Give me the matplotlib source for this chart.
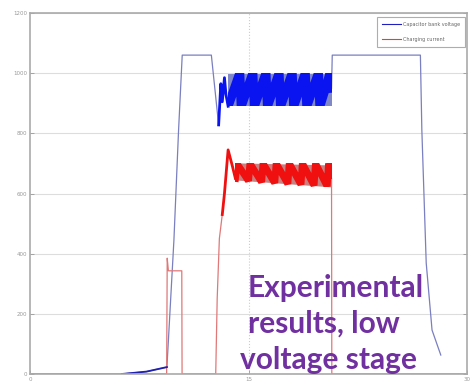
import matplotlib
matplotlib.use("Agg")
import matplotlib.pyplot as plt
from matplotlib.patches import Rectangle

# ---- data ----
# Capacitor bank voltage: thin outline parts
volt_t = [0, 6.3, 8.0, 9.4, 9.88, 10.2, 10.45, 12.45, 12.95, 13.1, 13.2, 13.35, 13.45, 13.6]
volt_v = [0, 0, 8, 23, 445, 811, 1060, 1060, 828, 965, 905, 985, 930, 890]
volt_t2 = [20.7, 20.75, 26.8, 26.9, 27.2, 27.6, 28.2]
volt_v2 = [950, 1060, 1060, 811, 369, 146, 63]
# sawtooth in the dense band (voltage)
band_v_t = [13.6, 14.4, 14.5, 15.3, 15.4, 16.2, 16.3, 17.1, 17.2, 18.0, 18.1, 18.9, 19.0,
            19.8, 19.9, 20.6, 20.7]
band_v_v = [890, 1000, 890, 1000, 890, 1000, 890, 1000, 890, 1000, 890, 1000, 890,
            1000, 890, 1000, 950]
band_v_lo = [890, 890]
band_v_hi = [1000, 1000]
band_v_span = [13.6, 20.7]

# Charging current
curr_t = [0, 9.38, 9.42, 9.5, 10.42, 10.44, 12.75, 12.85, 13.0, 13.2, 13.35, 13.6, 13.9, 14.1]
curr_v = [0, 0, 385, 343, 343, 0, 0, 250, 450, 530, 600, 745, 690, 650]
curr_t2 = [20.7, 20.72, 30]
curr_v2 = [650, 0, 0]
band_c_t = [14.1, 14.2, 15.0, 15.1, 15.9, 16.0, 16.8, 16.9, 17.7, 17.8, 18.6, 18.7, 19.5,
            19.6, 20.4, 20.5, 20.7]
band_c_v = [650, 700, 642, 700, 638, 700, 635, 700, 632, 700, 630, 700, 627, 700, 624, 700, 660]
band_c_lo = [645, 622]
band_c_hi = [702, 695]
band_c_span = [14.1, 20.7]

xticks = [0, 15, 30]
yticks = [0, 200, 400, 600, 800, 1000, 1200]
legend_labels = ["Capacitor bank voltage", "Charging current"]
note_lines = ["Experimental", "results, low", "voltage stage"]

W, H = 471, 390
fig = plt.figure(figsize=(W / 100, H / 100), dpi=100)
ax = fig.add_axes([30 / W, 1 - 374 / H, (467 - 30) / W, (374 - 13) / H])

ax.set_xlim(0, 30)
ax.set_ylim(0, 1200)
ax.set_xticks(xticks)
ax.set_yticks(yticks)
ax.tick_params(direction="in", length=3, width=0.6, colors="#999999", labelsize=4,
               right=True, top=False, pad=2)
for s in ax.spines.values():
    s.set_color("#aaaaaa")
    s.set_linewidth(1.2)
ax.yaxis.grid(True, color="#dddddd", lw=0.8)
ax.axvline(15, color="#cccccc", lw=0.8, ls=":", zorder=0)

thin_blue = "#7a7fc0"
thin_red = "#e07878"
# thin outlines
ax.plot(volt_t, volt_v, color=thin_blue, lw=0.9)
ax.plot(volt_t2, volt_v2, color=thin_blue, lw=0.9)
ax.plot(curr_t, curr_v, color=thin_red, lw=0.9)
ax.plot(curr_t2, curr_v2, color=thin_red, lw=0.9)
# darker low ramp
ax.plot(volt_t[1:4], volt_v[1:4], color="#2020b0", lw=1.3)

# dense bands
ax.fill_between(band_v_span, band_v_lo, band_v_hi, color="#8088c8", lw=0)
clip_v = Rectangle((band_v_span[0], band_v_lo[0]), band_v_span[1] - band_v_span[0],
                   band_v_hi[0] - band_v_lo[0], transform=ax.transData, visible=False)
ax.add_patch(clip_v)
ln, = ax.plot(band_v_t, band_v_v, color="#0a14f0", lw=6.5, solid_joinstyle="bevel")
ln.set_clip_path(clip_v)
ax.plot(volt_t[8:], volt_v[8:], color="#0a14f0", lw=2.0, solid_joinstyle="round")

ax.fill_between(band_c_span, band_c_lo, band_c_hi, color="#c88080", lw=0)
clip_c = Rectangle((band_c_span[0], band_c_lo[1]), band_c_span[1] - band_c_span[0],
                   band_c_hi[0] - band_c_lo[1], transform=ax.transData, visible=False)
ax.add_patch(clip_c)
ln2, = ax.plot(band_c_t, band_c_v, color="#f01010", lw=5.0, solid_joinstyle="bevel")
ln2.set_clip_path(clip_c)
ax.plot(curr_t[9:], curr_v[9:], color="#f01010", lw=2.0, solid_joinstyle="round")

# legend
h1, = ax.plot([], [], color="#2020c0", lw=0.8)
h2, = ax.plot([], [], color="#e04040", lw=0.8)
leg = ax.legend([h1, h2], legend_labels, loc="upper right", fontsize=3.5,
                frameon=True, fancybox=False, edgecolor="#999999",
                handlelength=4.0, handletextpad=0.3, borderpad=1.0, labelspacing=2.0,
                bbox_to_anchor=(1.0, 0.995))
leg.get_frame().set_linewidth(0.8)
for t in leg.get_texts():
    t.set_color("#666666")

# annotation
xs = [248, 248, 240]
ys = [297, 333, 369]
for line, x, y in zip(note_lines, xs, ys):
    fig.text(x / W, 1 - y / H, line, color="#7030A0", fontsize=21.5,
             fontweight="bold", family=["Lato", "DejaVu Sans"], va="baseline", ha="left")

fig.savefig("out.png", dpi=100)
